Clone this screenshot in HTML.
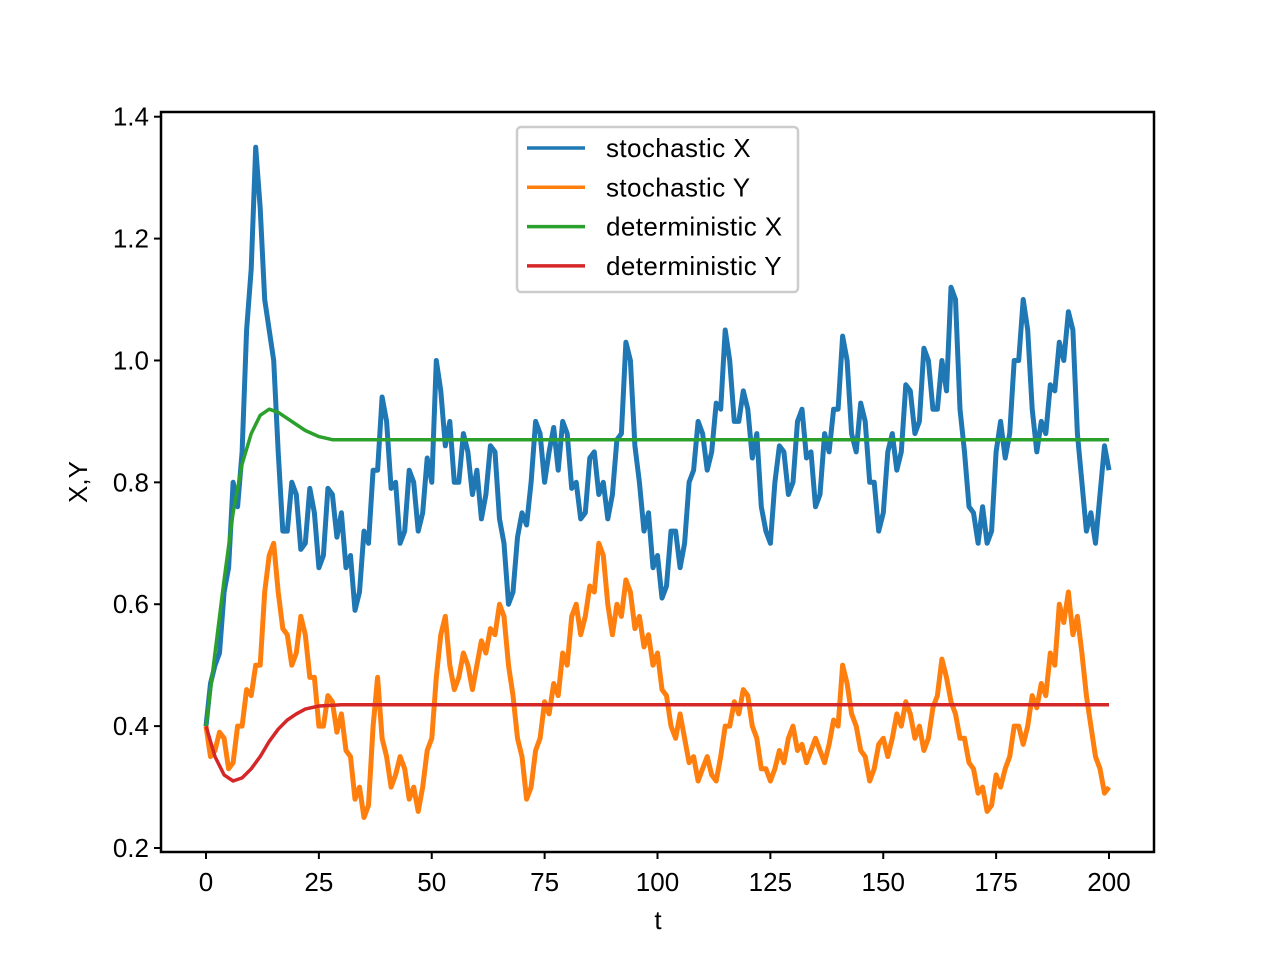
<!DOCTYPE html>
<html><head><meta charset="utf-8"><style>
body{margin:0;background:#fff;}
svg text{font-family:"Liberation Sans",Arial,sans-serif;fill:#000;}
</style></head><body>
<svg id="chart" width="1281" height="959" viewBox="0 0 1281 959" xmlns="http://www.w3.org/2000/svg">
<rect width="1281" height="959" fill="#fff"/>
<g id="plot"></g>
<g id="axes"></g>
</svg>
<script>
const stochStep = 1;
const stochX = [.40,.47,.50,.52,.62,.66,.80,.76,.85,1.05,1.15,1.35,1.25,1.10,1.05,1.00,.85,.72,.72,.80,.78,.69,.70,.79,.75,.66,.68,.79,.78,.71,.75,.66,.68,.59,.62,.72,.70,.82,.82,.94,.90,.79,.80,.70,.72,.82,.80,.72,.75,.84,.80,1.0,.95,.86,.90,.80,.80,.88,.85,.78,.82,.74,.78,.86,.85,.74,.70,.60,.62,.71,.75,.73,.80,.90,.88,.80,.85,.89,.82,.90,.88,.79,.80,.74,.75,.84,.85,.78,.80,.74,.78,.87,.88,1.03,1.0,.86,.80,.72,.75,.66,.68,.61,.63,.72,.72,.66,.70,.80,.82,.90,.88,.82,.85,.93,.92,1.05,1.0,.90,.90,.95,.92,.84,.88,.76,.72,.70,.80,.86,.85,.78,.80,.90,.92,.84,.85,.76,.78,.88,.85,.92,.92,1.04,1.0,.88,.85,.93,.90,.80,.80,.72,.75,.85,.88,.82,.85,.96,.95,.88,.90,1.02,1.0,.92,.92,1.0,.95,1.12,1.10,.92,.85,.76,.75,.70,.76,.70,.72,.85,.90,.84,.88,1.0,1.0,1.10,1.05,.92,.85,.90,.88,.96,.95,1.03,1.0,1.08,1.05,.88,.80,.72,.75,.70,.78,.86,.82];
const stochY = [.40,.35,.36,.39,.38,.33,.34,.40,.40,.46,.45,.50,.50,.62,.68,.70,.62,.56,.55,.50,.52,.58,.55,.48,.48,.40,.40,.45,.44,.39,.42,.36,.35,.28,.30,.25,.27,.40,.48,.38,.35,.30,.32,.35,.33,.28,.30,.26,.30,.36,.38,.48,.55,.58,.50,.46,.48,.52,.50,.46,.50,.54,.52,.56,.55,.60,.58,.50,.45,.38,.35,.28,.30,.36,.38,.44,.42,.47,.45,.52,.50,.58,.60,.55,.58,.63,.62,.70,.68,.60,.55,.60,.58,.64,.62,.56,.58,.53,.55,.50,.52,.46,.45,.40,.38,.42,.38,.34,.35,.31,.33,.35,.32,.31,.35,.40,.40,.44,.42,.46,.45,.40,.38,.33,.33,.31,.33,.36,.34,.38,.40,.36,.37,.34,.36,.38,.36,.34,.37,.41,.40,.50,.47,.42,.40,.36,.35,.31,.33,.37,.38,.35,.38,.42,.40,.44,.42,.38,.40,.36,.38,.43,.45,.51,.48,.44,.42,.38,.38,.34,.33,.29,.30,.26,.27,.32,.30,.33,.35,.40,.40,.37,.40,.45,.43,.47,.45,.52,.50,.60,.57,.62,.55,.58,.52,.45,.40,.35,.33,.29,.30];
const detXT = [0,2,4,6,8,10,12,14,16,18,20,22,25,28,32,40,200];
const detX = [.40,.52,.64,.75,.83,.88,.91,.92,.915,.905,.895,.885,.875,.87,.87,.87,.87];
const detYT = [0,2,4,6,8,10,12,14,16,18,20,22,25,30,40,200];
const detY = [.40,.35,.32,.31,.315,.33,.35,.375,.395,.41,.42,.428,.433,.435,.435,.435];
const xTicks = [0,25,50,75,100,125,150,175,200];
const yTicks = [0.2,0.4,0.6,0.8,1.0,1.2,1.4];
const yTickLabels = ["0.2","0.4","0.6","0.8","1.0","1.2","1.4"];
const legendLabels = ["stochastic X","stochastic Y","deterministic X","deterministic Y"];

const NS="http://www.w3.org/2000/svg";
const L=161,R=1154,T=112,B=852;
const FS=26;
function sx(t){return 206+(t-0)*(1109-206)/200;}
function sy(v){return 848-(v-0.2)*(848-116.7)/1.2;}
const plot=document.getElementById('plot'), axes=document.getElementById('axes');
function mk(tag,attrs,parent){const e=document.createElementNS(NS,tag);for(const k in attrs)e.setAttribute(k,attrs[k]);parent.appendChild(e);return e;}
function line(ts,vs,color,name,w){
  const p=mk('polyline',{points:vs.map((v,i)=>sx(ts[i]).toFixed(1)+','+sy(v).toFixed(1)).join(' '),fill:'none',stroke:color,'stroke-width':w,'stroke-linejoin':'round'},plot);
  
  
}
const stochTX = stochX.map((v,i)=>i*stochStep);
const stochTY = stochY.map((v,i)=>i*stochStep);
line(stochTX,stochX,'#1f77b4','series-stochastic-x',5);
line(stochTY,stochY,'#ff7f0e','series-stochastic-y',5);
line(detXT,detX,'#2ca02c','series-deterministic-x',3.5);
line(detYT,detY,'#d62728','series-deterministic-y',3.5);

const frame=mk('rect',{x:L,y:T,width:R-L,height:B-T,fill:'none',stroke:'#000','stroke-width':2.5},axes);


xTicks.forEach(t=>{
  const tk=mk('line',{x1:sx(t),x2:sx(t),y1:B,y2:B+7,stroke:'#000','stroke-width':2},axes);
  
  
  const tx=mk('text',{x:sx(t),y:B+39,'text-anchor':'middle','font-size':FS},axes);
  tx.textContent=t;
  
  
});
yTicks.forEach((v,i)=>{
  const tk=mk('line',{x1:L-7,x2:L,y1:sy(v),y2:sy(v),stroke:'#000','stroke-width':2},axes);
  
  
  const tx=mk('text',{x:L-12,y:sy(v)+9,'text-anchor':'end','font-size':FS},axes);
  tx.textContent=yTickLabels[i];
  
  
});
const xt=mk('text',{x:658,y:929,'text-anchor':'middle','font-size':FS},axes);
xt.textContent='t';


const yt=mk('text',{x:0,y:0,'text-anchor':'middle','font-size':FS,transform:'translate(87,482) rotate(-90)'},axes);
yt.textContent='X,Y';



const lg=mk('g',{},axes);


mk('rect',{x:517,y:127,width:281,height:165,rx:4,fill:'#fff','fill-opacity':0.8,stroke:'#ccc','stroke-width':2.5},lg);
const colors=['#1f77b4','#ff7f0e','#2ca02c','#d62728'];
legendLabels.forEach((lab,i)=>{
  const y=148+i*39.3;
  const g=mk('g',{},lg);
  
  
  mk('line',{x1:527,x2:585,y1:y,y2:y,stroke:colors[i],'stroke-width':3.5},g);
  const tx=mk('text',{x:606,y:y+9,'font-size':FS,'letter-spacing':'0.4'},g);
  tx.textContent=lab;
});
</script>
</body></html>
